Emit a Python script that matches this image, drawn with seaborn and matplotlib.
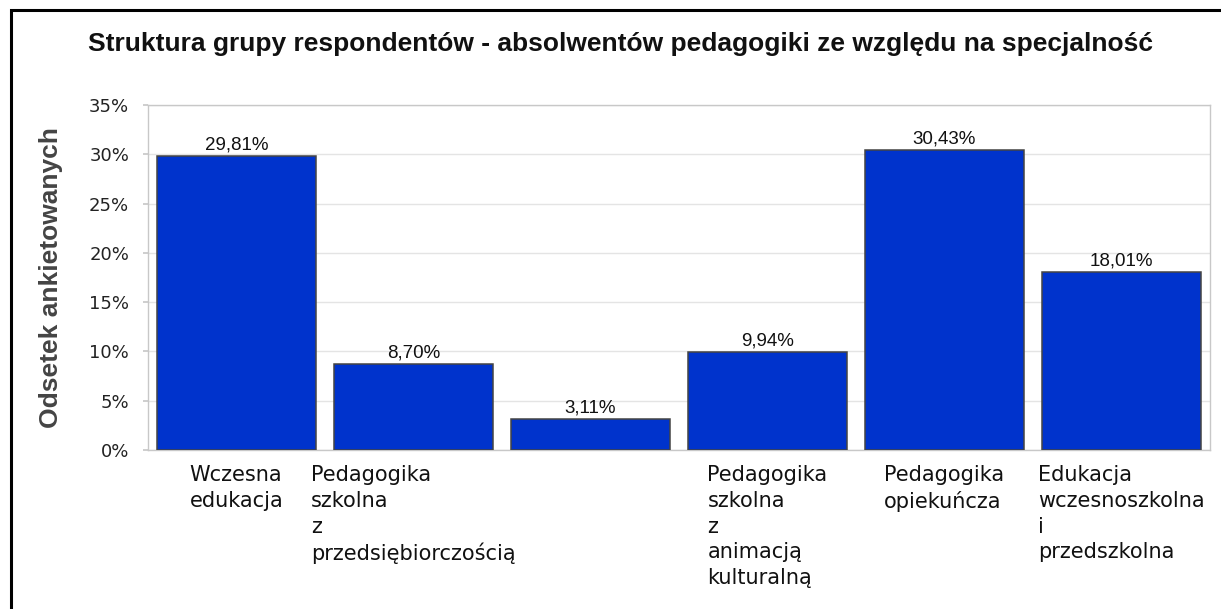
import pandas as pd
import matplotlib.pyplot as plt
import matplotlib.patches as patches
import seaborn as sns

sns.set_theme(style="white")
plt.rcParams['font.family'] = ['DejaVu Sans']

categories = ["Wczesna edukacja", "Pedagogika szkolna z przedsiębiorczością", "(brak)",
              "Pedagogika szkolna z animacją kulturalną", "Pedagogika opiekuńcza",
              "Edukacja wczesnoszkolna i przedszkolna"]
tick_labels = ["Wczesna\nedukacja", "Pedagogika\nszkolna\nz\nprzedsiębiorczością", "",
               "Pedagogika\nszkolna\nz\nanimacją\nkulturalną", "Pedagogika\nopiekuńcza",
               "Edukacja\nwczesnoszkolna\ni\nprzedszkolna"]
values = [29.81, 8.70, 3.11, 9.94, 30.43, 18.01]
y_ticks = [0, 5, 10, 15, 20, 25, 30, 35]

df = pd.DataFrame({'specjalnosc': categories, 'odsetek': values})

fig = plt.figure(figsize=(12.21, 6.09), dpi=100)
ax = fig.add_axes([0.1212, 0.261, 0.8697, 0.5666])

sns.barplot(data=df, x='specjalnosc', y='odsetek', order=categories, color='#0033CC',
            saturation=1, width=0.9, edgecolor='#444444', linewidth=1.1, ax=ax, zorder=3)

ax.set_ylim(0, 35)
ax.set_xlim(-0.5, len(categories) - 0.5)
ax.set_yticks(y_ticks)
ax.set_yticklabels([f"{t}%" for t in y_ticks], fontsize=13, color='#222222')
ax.yaxis.grid(True, color='#e4e4e4', linewidth=1, zorder=0)
ax.set_axisbelow(True)

ax.set_xticks(range(len(categories)))
ax.set_xticklabels(tick_labels, fontsize=15, color='#111111', multialignment='left',
                   linespacing=1.35)
ax.tick_params(axis='x', length=0, pad=11)
ax.set_xticks([i + 0.5 for i in range(-1, len(categories))], minor=True)
ax.tick_params(axis='x', which='minor', length=7, color='#c8c8c8', width=1, direction='out')
ax.tick_params(axis='y', length=3.5, color='#c8c8c8', pad=10, left=True)

for s in ax.spines.values():
    s.set_color('#c8c8c8')
    s.set_linewidth(1)

for i, v in enumerate(values):
    ax.text(i, v + 0.3, f"{v:.2f}%".replace('.', ','), ha='center', va='bottom',
            fontsize=13.5, family='Liberation Sans', color='#111111')

ax.set_xlabel('')
ax.set_ylabel('')
fig.text(0.042, 0.545, 'Odsetek ankietowanych', rotation=90, ha='center', va='center',
         fontsize=19, fontweight='bold', family='Liberation Sans', color='#444444')
fig.text(0.5085, 0.928, 'Struktura grupy respondentów - absolwentów pedagogiki ze względu na specjalność',
         ha='center', va='center', fontsize=19, fontweight='bold', family='Liberation Sans',
         color='#111111')

fig.patches.append(patches.Rectangle((0.0086, -0.2), 1.2, 1.1828, transform=fig.transFigure,
                                     fill=False, edgecolor='black', linewidth=2.2))

fig.savefig('out.png', dpi=100)
